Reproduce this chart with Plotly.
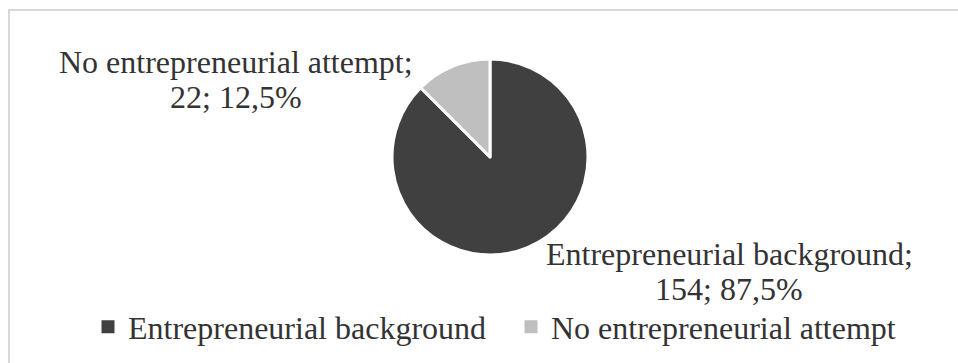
import plotly.graph_objects as go

# Survey split of respondents by entrepreneurial experience
categories = ["Entrepreneurial background", "No entrepreneurial attempt"]
counts = [154, 22]
slice_colors = ["#404040", "#bfbfbf"]

W, H = 958, 363
FONT = "Liberation Serif, Times New Roman, serif"
TEXT_COLOR = "#333333"
FS = 32

total = sum(counts)
shares = [c / total * 100 for c in counts]


def fmt_pct(p):
    return f"{p:.1f}".replace(".", ",") + "%"


# pie placement in pixels (centre and radius)
cx, cy, r = 490, 157, 98

fig = go.Figure()
fig.add_trace(
    go.Pie(
        labels=categories,
        values=counts,
        sort=False,
        direction="clockwise",
        rotation=0,
        textinfo="none",
        hoverinfo="label+value+percent",
        showlegend=False,
        marker=dict(colors=slice_colors, line=dict(color="white", width=3)),
        domain=dict(
            x=[(cx - r) / W, (cx + r) / W],
            y=[(H - cy - r) / H, (H - cy + r) / H],
        ),
    )
)

# solid square legend keys, one per category
for name, col in zip(categories, slice_colors):
    fig.add_trace(
        go.Scatter(
            x=[None],
            y=[None],
            mode="markers",
            name=name,
            marker=dict(symbol="square", size=13, color=col, line=dict(width=0)),
            hoverinfo="skip",
        )
    )

# data labels, one annotation per line: (centre x, line centres y from top)
label_spots = [
    (729, [254, 289]),  # Entrepreneurial background
    (236, [62, 97]),    # No entrepreneurial attempt
]
annotations = []
for name, cnt, pct, (lx, ys) in zip(categories, counts, shares, label_spots):
    lines = [f"{name};", f"{cnt}; {fmt_pct(pct)}"]
    for txt, ly in zip(lines, ys):
        annotations.append(
            dict(
                text=txt,
                x=lx / W,
                y=(H - ly) / H,
                xref="paper",
                yref="paper",
                xanchor="center",
                yanchor="middle",
                showarrow=False,
                font=dict(family=FONT, size=FS, color=TEXT_COLOR),
            )
        )

# light grey chart-area frame
shapes = [
    dict(
        type="rect",
        xref="paper",
        yref="paper",
        x0=9 / W,
        x1=1.2,
        y0=-0.2,
        y1=(H - 10) / H,
        line=dict(color="#d9d9d9", width=2),
        fillcolor="rgba(0,0,0,0)",
        layer="below",
    )
]

fig.update_layout(
    width=W,
    height=H,
    margin=dict(l=0, r=0, t=0, b=0),
    paper_bgcolor="white",
    plot_bgcolor="white",
    font=dict(family=FONT, size=FS, color=TEXT_COLOR),
    xaxis=dict(visible=False),
    yaxis=dict(visible=False),
    showlegend=True,
    legend=dict(
        orientation="h",
        x=88 / W,
        xanchor="left",
        y=(H - 327) / H,
        yanchor="middle",
        font=dict(family=FONT, size=FS, color=TEXT_COLOR),
        bgcolor="rgba(0,0,0,0)",
        itemwidth=30,
        entrywidth=378,
        entrywidthmode="pixels",
        traceorder="normal",
    ),
    annotations=annotations,
    shapes=shapes,
)

fig.write_html("out.html")
